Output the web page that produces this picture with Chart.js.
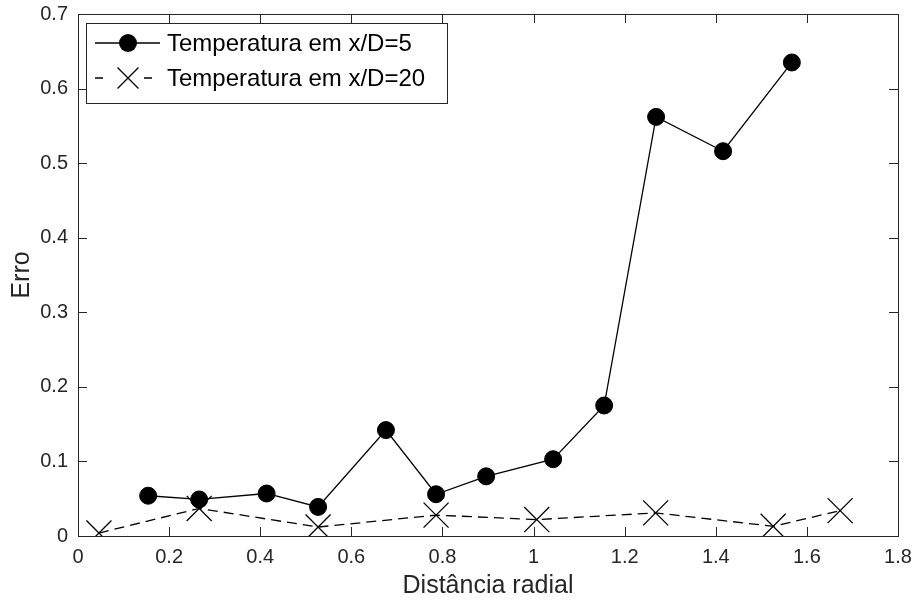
<!DOCTYPE html>
<html>
<head>
<meta charset="utf-8">
<title>Erro x Distância radial</title>
<script src="https://cdn.jsdelivr.net/npm/chart.js@4/dist/chart.umd.min.js"></script>
<style>
  html, body { margin: 0; padding: 0; background: #fff; }
  canvas { display: block; }
</style>
</head>
<body>
<canvas id="erroChart" width="913" height="601"></canvas>
<script>
// radial positions and error values, x/D = 5
const rad5 = [0.154, 0.266, 0.414, 0.527, 0.676, 0.786, 0.896, 1.043, 1.155, 1.269, 1.416, 1.567];
const err5 = [0.054, 0.049, 0.057, 0.039, 0.142, 0.056, 0.080, 0.103, 0.175, 0.562, 0.516, 0.635];

// radial positions and error values, x/D = 20
const rad20 = [0.046, 0.266, 0.527, 0.786, 1.007, 1.268, 1.526, 1.673];
const err20 = [0.004, 0.037, 0.012, 0.028, 0.022, 0.031, 0.013, 0.034];

const seriesLabels = ['Temperatura em x/D=5', 'Temperatura em x/D=20'];
const xLimits = [0, 1.8];
const yLimits = [0, 0.7];

const axisColor = '#262626';
const fontFamily = '"Liberation Sans", Arial, Helvetica, sans-serif';

function toPoints(xs, ys) {
    return xs.map((v, i) => ({ x: v, y: ys[i] }));
}

// 1 instead of 1.0, 0.2 instead of 0.20000001
function tickText(value) {
    return String(Number(value.toFixed(1)));
}

// box around the plot with inward ticks on all four sides
const frameBox = {
    id: 'frameBox',
    afterDatasetsDraw(chart) {
        const { ctx, chartArea: a, scales: { x, y } } = chart;
        const len = 9;
        ctx.save();
        ctx.strokeStyle = axisColor;
        ctx.lineWidth = 1;
        ctx.strokeRect(a.left + 0.5, a.top + 0.5, a.right - a.left, a.bottom - a.top);
        ctx.beginPath();
        x.ticks.forEach(t => {
            const px = Math.round(x.getPixelForValue(t.value)) + 0.5;
            ctx.moveTo(px, a.bottom); ctx.lineTo(px, a.bottom - len);
            ctx.moveTo(px, a.top); ctx.lineTo(px, a.top + len);
        });
        y.ticks.forEach(t => {
            const py = Math.round(y.getPixelForValue(t.value)) + 0.5;
            ctx.moveTo(a.left, py); ctx.lineTo(a.left + len, py);
            ctx.moveTo(a.right, py); ctx.lineTo(a.right - len, py);
        });
        ctx.stroke();
        ctx.restore();
    }
};

// legend box in the upper left corner of the plot
const boxLegend = {
    id: 'boxLegend',
    afterDraw(chart) {
        const { ctx } = chart;
        const left = 86, top = 23, width = 361, height = 80;
        ctx.save();
        ctx.fillStyle = '#fff';
        ctx.fillRect(left, top, width, height);
        ctx.strokeStyle = axisColor;
        ctx.lineWidth = 1;
        ctx.strokeRect(left + 0.5, top + 0.5, width, height);

        const rows = [43, 78];
        const mx = 128;
        ctx.strokeStyle = '#000';
        ctx.lineWidth = 1.3;

        // solid line with filled circle
        ctx.beginPath();
        ctx.moveTo(95, rows[0]); ctx.lineTo(160, rows[0]);
        ctx.stroke();
        ctx.beginPath();
        ctx.arc(mx, rows[0], 9, 0, Math.PI * 2);
        ctx.fillStyle = '#000';
        ctx.fill();

        // dashed line with rotated cross
        ctx.beginPath();
        ctx.moveTo(95, rows[1]); ctx.lineTo(103, rows[1]);
        ctx.moveTo(144, rows[1]); ctx.lineTo(152, rows[1]);
        const r = 10.5;
        ctx.moveTo(mx - r, rows[1] - r); ctx.lineTo(mx + r, rows[1] + r);
        ctx.moveTo(mx - r, rows[1] + r); ctx.lineTo(mx + r, rows[1] - r);
        ctx.stroke();

        ctx.fillStyle = '#000';
        ctx.font = '24px ' + fontFamily;
        ctx.textBaseline = 'middle';
        ctx.textAlign = 'left';
        chart.data.datasets.forEach((ds, i) => {
            ctx.fillText(ds.label, 167, rows[i] + 1);
        });
        ctx.restore();
    }
};

new Chart(document.getElementById('erroChart').getContext('2d'), {
    type: 'scatter',
    data: {
        datasets: [
            {
                label: seriesLabels[0],
                data: toPoints(rad5, err5),
                showLine: true,
                borderColor: '#000',
                borderWidth: 1.3,
                pointStyle: 'circle',
                pointRadius: 8.5,
                pointBackgroundColor: '#000',
                pointBorderColor: '#000',
                pointBorderWidth: 1
            },
            {
                label: seriesLabels[1],
                data: toPoints(rad20, err20),
                showLine: true,
                borderColor: '#000',
                borderWidth: 1.3,
                borderDash: [10, 6],
                pointStyle: 'crossRot',
                pointRadius: 17.7,
                pointBorderColor: '#000',
                pointBorderWidth: 1.3
            }
        ]
    },
    options: {
        responsive: false,
        animation: false,
        layout: {
            autoPadding: false,
            padding: { top: 14, right: 15, left: 0, bottom: 0 }
        },
        scales: {
            x: {
                type: 'linear',
                min: xLimits[0],
                max: xLimits[1],
                afterFit: (scale) => {
                    scale.height = 65;
                    scale.paddingLeft = 0;
                    scale.paddingRight = 0;
                },
                grid: { display: false, drawTicks: false },
                border: { display: false },
                ticks: {
                    stepSize: 0.2,
                    padding: 9,
                    color: axisColor,
                    font: { family: fontFamily, size: 20 },
                    callback: tickText
                },
                title: {
                    display: true,
                    text: 'Distância radial',
                    color: axisColor,
                    font: { family: fontFamily, size: 25 },
                    padding: { top: 0, bottom: 0 }
                }
            },
            y: {
                min: yLimits[0],
                max: yLimits[1],
                afterFit: (scale) => {
                    scale.width = 78;
                    scale.paddingTop = 0;
                    scale.paddingBottom = 0;
                },
                grid: { display: false, drawTicks: false },
                border: { display: false },
                ticks: {
                    stepSize: 0.1,
                    padding: 10,
                    color: axisColor,
                    font: { family: fontFamily, size: 20 },
                    callback: tickText
                },
                title: {
                    display: true,
                    text: 'Erro',
                    color: axisColor,
                    font: { family: fontFamily, size: 25 },
                    padding: { top: 7, bottom: 0 }
                }
            }
        },
        plugins: {
            legend: { display: false },
            tooltip: { enabled: false }
        }
    },
    plugins: [frameBox, boxLegend]
});
</script>
</body>
</html>
